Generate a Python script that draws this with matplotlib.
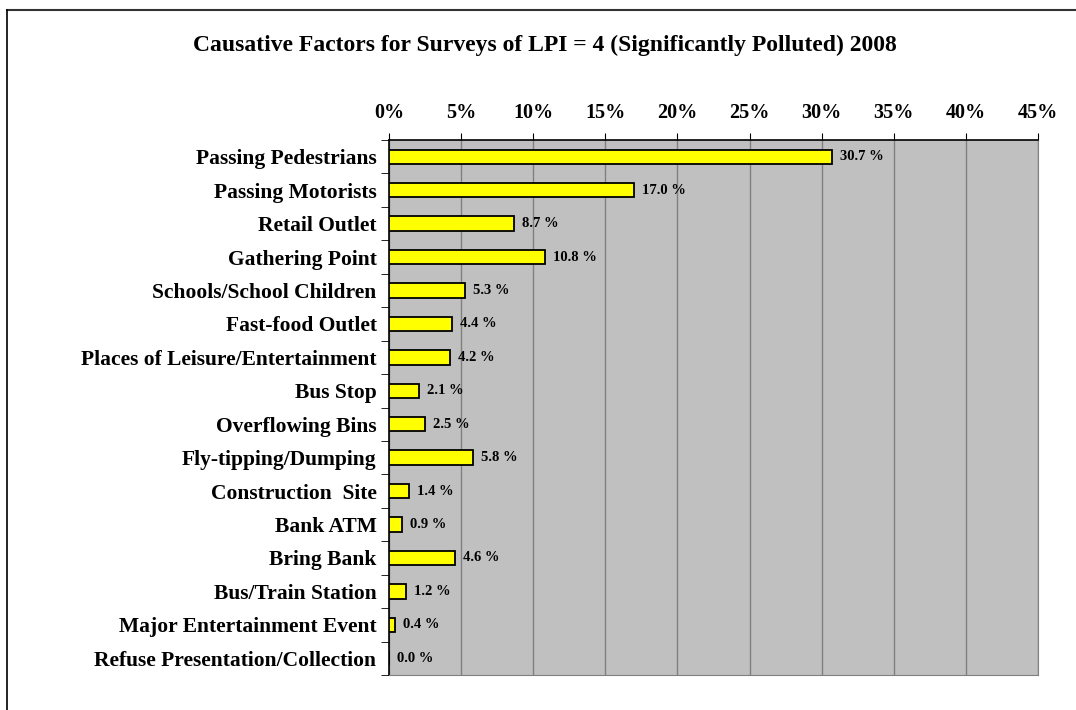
import matplotlib
matplotlib.use("Agg")
import matplotlib.pyplot as plt
from matplotlib.lines import Line2D
from matplotlib.ticker import FixedLocator, PercentFormatter

categories = ['Passing Pedestrians', 'Passing Motorists', 'Retail Outlet', 'Gathering Point',
              'Schools/School Children', 'Fast-food Outlet', 'Places of Leisure/Entertainment',
              'Bus Stop', 'Overflowing Bins', 'Fly-tipping/Dumping', 'Construction  Site',
              'Bank ATM', 'Bring Bank', 'Bus/Train Station', 'Major Entertainment Event',
              'Refuse Presentation/Collection']
values = [30.7, 17.0, 8.7, 10.8, 5.3, 4.4, 4.2, 2.1, 2.5, 5.8, 1.4, 0.9, 4.6, 1.2, 0.4, 0.0]
xticks = [0, 5, 10, 15, 20, 25, 30, 35, 40, 45]

plt.rcParams['font.family'] = ['Liberation Serif', 'DejaVu Serif']
plt.rcParams['font.weight'] = 'bold'

fig = plt.figure(figsize=(10.76, 7.10), dpi=100)
ax = fig.add_axes([389/1076, 1 - 675/710, (1038 - 389)/1076, (675 - 140)/710])
ax.set_facecolor('#c0c0c0')

y = list(range(len(categories)))
ax.barh(y, values, height=0.43, color='#ffff00', edgecolor='black', linewidth=1.3, zorder=3)
for yi, v in zip(y, values):
    ax.text(v + 0.55, yi, '%.1f %%' % v, va='center', ha='left', fontsize=10.5,
            fontweight='bold', zorder=4)

ax.set_xlim(0, 45)
ax.set_ylim(len(categories) - 0.5, -0.5)
ax.xaxis.tick_top()
ax.set_xticks(xticks)
ax.xaxis.set_major_formatter(PercentFormatter(decimals=0))
ax.tick_params(axis='x', direction='out', length=5, labelsize=14.5, pad=7)
ax.set_yticks(y)
ax.set_yticklabels(categories, fontsize=15.5)
ax.tick_params(axis='y', which='major', length=0, pad=9)
ax.yaxis.set_minor_locator(FixedLocator([k - 0.5 for k in range(len(categories) + 1)]))
ax.tick_params(axis='y', which='minor', direction='out', length=6)
ax.grid(axis='x', color='#808080', linewidth=1, zorder=1)

for side in ['top', 'left']:
    ax.spines[side].set_color('black')
    ax.spines[side].set_linewidth(1.2)
for side in ['right', 'bottom']:
    ax.spines[side].set_color('#808080')

fig.text(545/1076, 1 - 45/710, 'Causative Factors for Surveys of LPI = 4 (Significantly Polluted) 2008',
         ha='center', va='center', fontsize=17, fontweight='bold')

fig.add_artist(Line2D([7/1076, 1], [1 - 10/710, 1 - 10/710], color='#333333', linewidth=1.5))
fig.add_artist(Line2D([7/1076, 7/1076], [0, 1 - 10/710], color='black', linewidth=1.2))

fig.savefig('out.png', dpi=100)
